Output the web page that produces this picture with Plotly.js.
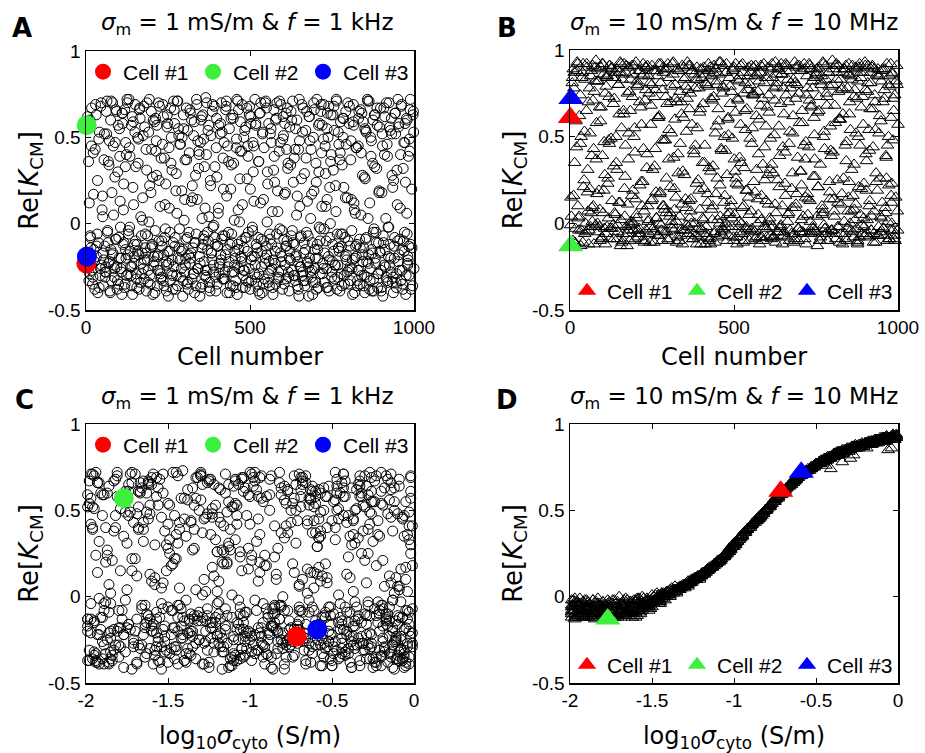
<!DOCTYPE html>
<html><head><meta charset="utf-8">
<script src="https://cdn.plot.ly/plotly-3.0.1.min.js"></script>
<style>html,body{margin:0;padding:0;background:#fff}#chart{width:925px;height:753px}</style>
</head><body><div id="chart"></div>
<script>
// ---- data (read/estimated from the reference) ----
const cellNumber = [
4,7,9,10,14,17,18,22,24,27,31,32,35,38,39,43,46,47,51,53,
56,57,61,64,65,68,72,74,75,79,82,83,86,90,91,94,97,99,102,105,
106,110,113,114,117,121,122,125,128,130,134,135,138,142,143,146,150,151,154,157,
159,161,165,166,169,173,175,176,180,183,184,187,191,192,195,199,201,203,206,209,
211,214,217,218,221,225,226,229,232,235,236,240,243,244,247,251,253,255,258,261,
262,266,268,270,273,277,278,281,285,286,289,292,294,297,300,302,305,308,310,313,
316,317,321,323,326,328,331,334,336,338,342,344,346,350,351,354,357,359,362,365,
367,369,373,374,377,380,383,385,388,390,393,396,398,401,404,406,409,412,413,417,
420,421,425,427,429,433,434,437,440,443,445,447,451,452,455,458,461,463,466,469,
471,473,477,479,481,485,486,490,492,494,497,501,502,505,508,511,513,515,519,520,
523,527,528,531,534,537,539,541,545,546,549,553,555,557,560,563,565,568,571,573,
575,579,580,583,587,589,591,594,597,599,602,605,607,610,613,615,618,621,622,626,
628,630,634,635,638,642,643,646,649,651,654,657,659,662,664,667,670,672,675,678,
680,682,686,687,690,694,695,698,701,703,706,709,711,714,716,719,722,724,727,730,
732,735,737,740,742,745,748,750,753,755,758,761,763,766,768,771,774,776,779,781,
784,787,789,792,794,797,800,802,805,807,810,813,815,818,820,823,826,828,831,833,
836,839,841,844,846,849,852,854,857,859,862,865,867,870,872,875,878,880,883,885,
888,891,893,896,898,901,904,906,909,911,914,917,919,922,924,927,930,932,935,937,
940,943,945,948,950,953,956,958,961,963,966,969,971,974,976,979,982,984,987,989,
8,60,118,171,230,283,339,392,448,503,558,612,661,717,770,821,877,928,981,997,
2,5,11,13,16,20,23,26,29,33,36,41,44,49,52,55,59,62,66,69,
71,76,78,81,85,88,92,95,98,101,104,108,111,116,119,123,127,131,133,137,
140,144,148,152,155,158,163,167,170,174,178,181,186,189,194,197,200,204,207,212,
215,219,222,224,228,233,237,241,245,249,252,256,259,264,267,271,274,279,282,287,
290,293,296,299,303,306,309,312,315,319,322,325,329,333,337,340,343,347,349,353,
356,360,363,366,370,372,376,379,382,386,389,394,397,400,403,407,410,414,418,422,
424,428,431,435,438,441,444,449,453,456,459,462,465,468,472,475,478,483,487,489,
493,496,499,504,507,510,514,517,521,525,529,532,535,538,542,544,548,551,554,559,
561,564,567,570,574,577,582,585,588,592,595,598,601,604,608,611,614,617,620,624,
627,631,633,637,640,644,647,650,653,656,660,663,666,669,673,676,679,683,685,689,
692,696,699,702,705,708,712,715,718,721,725,728,731,734,738,741,744,747,751,754,
757,760,764,767,770,773,777,780,783,786,790,793,796,799,803,806,809,812,816,819,
822,825,829,832,835,838,842,845,848,851,855,858,861,864,868,871,874,877,881,884,
887,890,894,897,900,903,907,910,913,916,920,923,926,929,933,936,939,942,946,949,
952,954,957,960,962,964,967,970,972,975,977,979,981,983,985,988,990,993,996,999,
3,12,15,21,28,34,40,45,50,54,58,63,67,70,73,77,80,84,87,89,
93,96,100,103,107,109,112,115,120,124,126,129,132,136,139,141,145,147,149,153,
156,160,162,164,168,172,177,179,182,185,188,190,193,196,198,202,205,208,210,213,
216,220,223,227,231,234,238,239,242,246,248,250,254,257,260,263,265,269,272,275,
276,280,284,288,291,295,298,301,304,307,311,314,318,320,324,327,330,332,335,341,
345,348,352,355,358,361,364,368,371,375,378,381,384,387,391,395,399,402,405,408,
411,415,416,419,423,426,430,432,436,439,442,446,450,454,457,460,464,467,470,474,
476,480,482,484,488,491,495,498,500,506,509,512,516,518,522,524,526,530,533,536,
540,543,547,550,552,556,562,566,569,572,576,578,581,584,586,590,593,596,600,603,
606,609,616,619,623,625,629,632,636,639,641,645,648,652,655,658,665,668,671,674,
677,681,684,688,691,693,697,700,704,707,710,713,720,723,726,729,733,736,739,743,
746,749,752,756,759,762,765,769,772,775,778,782,785,788,791,795,798,801,804,808,
811,814,817,824,827,830,834,837,840,843,847,850,853,856,860,863,866,869,873,876,
879,882,886,889,892,895,899,902,905,908,912,915,918,921,925,931,934,938,941,944,
947,951,955,959,965,968,973,978,980,986,991,994,998,1000,120,360,610,850,475,735];

const log10SigmaCyto = [
-1.37,-0.42,-1.88,-0.15,-0.96,-1.62,-0.71,-0.03,-1.21,-1.94,-0.55,-0.84,-1.49,-0.27,-1.73,-1.05,-0.33,-1.56,-0.09,-1.12,
-0.61,-1.99,-0.78,-1.30,-0.19,-1.45,-0.88,-0.50,-1.67,-0.01,-1.15,-0.37,-1.83,-0.64,-1.26,-0.11,-1.58,-0.92,-0.24,-1.76,
-1.03,-0.47,-1.91,-0.29,-1.40,-0.06,-1.70,-0.82,-1.18,-0.35,-1.96,-0.58,-1.33,-0.13,-0.99,-1.52,-0.68,-0.21,-1.85,-0.75,
-0.39,-1.64,-0.02,-1.09,-0.86,-1.79,-0.52,-1.24,-0.17,-1.43,-0.66,-1.97,-0.31,-1.11,-0.80,-1.60,-0.07,-1.35,-0.44,-1.90,
-1.54,-0.26,-1.06,-0.73,-1.81,-0.04,-1.28,-0.57,-1.69,-0.90,-0.14,-1.47,-0.40,-1.93,-0.63,-1.17,-0.22,-1.74,-0.97,-0.49,
-1.13,-0.34,-1.87,-0.69,-1.39,-0.10,-1.59,-0.83,-0.28,-1.23,-1.98,-0.54,-1.04,-0.18,-1.66,-0.77,-1.31,-0.45,-1.50,-0.05,
-0.93,-1.72,-0.41,-1.16,-0.60,-1.95,-0.23,-1.34,-0.85,-1.57,-0.12,-1.00,-0.70,-1.84,-0.32,-1.27,-0.56,-1.63,-0.08,-1.41,
-0.53,-1.19,-0.16,-1.78,-0.89,-1.46,-0.36,-1.07,-0.76,-1.92,-0.48,-1.29,-0.20,-1.61,-0.95,-0.62,-1.10,-1.86,-0.30,-1.53,
-1.22,-0.43,-1.75,-0.09,-1.01,-0.59,-1.44,-0.25,-1.85,-0.79,-1.14,-0.38,-1.68,-0.65,-0.03,-1.36,-0.87,-1.96,-0.46,-1.20,
-0.81,-1.48,-0.11,-1.02,-0.72,-1.80,-0.33,-1.25,-0.51,-1.65,-0.19,-0.94,-1.38,-0.06,-1.89,-0.58,-1.08,-0.27,-1.55,-0.74,
-1.42,-0.22,-1.71,-0.98,-0.39,-1.12,-0.64,-1.93,-0.15,-1.30,-0.82,-0.02,-1.58,-0.53,-1.06,-0.31,-1.82,-0.70,-1.18,-0.44,
-0.91,-1.64,-0.26,-1.37,-0.57,-1.97,-0.08,-1.04,-0.76,-1.50,-0.35,-1.23,-0.67,-1.86,-0.17,-0.96,-1.45,-0.48,-1.74,-0.01,
-1.28,-0.43,-1.90,-0.13,-1.10,-0.61,-1.53,-0.29,-0.86,-1.69,-0.05,-1.16,-0.54,-1.98,-0.37,-1.33,-0.78,-0.20,-1.61,-1.00,
-0.69,-1.81,-0.41,-1.26,-0.10,-0.93,-1.47,-0.52,-1.77,-0.24,-1.08,-0.73,-1.39,-0.04,-1.62,-0.84,-0.32,-1.14,-1.95,-0.59,
-1.19,-0.12,-1.56,-0.47,-1.02,-0.80,-1.88,-0.28,-1.35,-0.66,-0.18,-1.72,-0.97,-0.42,-1.24,-0.07,-1.44,-0.88,-1.99,-0.34,
-0.55,-1.67,-0.21,-1.13,-0.75,-1.51,-0.03,-0.90,-1.31,-0.62,-1.85,-0.38,-1.05,-0.14,-1.59,-0.71,-1.21,-0.49,-1.76,-0.26,
-1.40,-0.85,-0.09,-1.92,-0.46,-1.17,-0.68,-1.49,-0.30,-0.99,-1.79,-0.56,-1.27,-0.16,-0.79,-1.63,-0.36,-1.09,-0.02,-1.34,
-0.64,-1.54,-0.23,-1.07,-1.83,-0.50,-0.95,-1.42,-0.11,-0.77,-1.20,-0.40,-1.68,-0.06,-0.87,-1.29,-0.60,-1.96,-0.19,-1.11,
-1.60,-0.33,-1.03,-0.72,-1.36,-0.15,-1.71,-0.57,-1.25,-0.92,-0.05,-1.46,-0.81,-1.87,-0.44,-1.15,-0.27,-1.57,-0.65,-1.94,
-0.37,-1.10,-0.82,-1.52,-0.08,-1.23,-0.61,-1.78,-0.29,-1.00,-0.51,-1.65,-0.13,-0.94,-1.32,-0.70,-1.89,-0.20,-1.06,-0.43,
-1.83,-0.58,-1.16,-0.24,-1.62,-0.87,-0.05,-1.41,-0.69,-1.97,-0.33,-1.08,-0.78,-1.53,-0.16,-1.29,-0.47,-1.74,-0.92,-0.11,
-1.26,-0.40,-1.94,-0.73,-0.19,-1.12,-1.57,-0.63,-0.02,-1.36,-0.84,-1.89,-0.29,-1.04,-0.55,-1.68,-0.13,-1.47,-0.97,-0.36,
-0.81,-1.99,-0.45,-1.21,-0.07,-1.59,-0.66,-1.33,-0.26,-1.79,-0.94,-0.51,-1.44,-0.10,-1.70,-0.76,-1.18,-0.38,-1.91,-0.60,
-1.50,-0.31,-1.06,-0.88,-1.76,-0.14,-1.23,-0.53,-1.86,-0.43,-0.99,-1.64,-0.21,-1.38,-0.70,-0.04,-1.14,-1.96,-0.49,-0.83,
-0.17,-1.31,-0.62,-1.85,-0.34,-1.09,-0.79,-1.55,-0.01,-1.27,-0.57,-1.72,-0.91,-0.23,-1.45,-0.68,-1.92,-0.12,-1.02,-0.44,
-1.66,-0.50,-1.19,-0.06,-1.43,-0.74,-1.98,-0.28,-0.86,-1.60,-0.37,-1.11,-0.65,-1.80,-0.18,-1.35,-0.95,-0.41,-1.52,-0.09,
-0.98,-1.73,-0.32,-1.24,-0.56,-1.88,-0.15,-1.04,-0.72,-1.49,-0.03,-0.89,-1.62,-0.46,-1.15,-0.27,-1.94,-0.80,-1.30,-0.61,
-1.40,-0.20,-1.82,-0.67,-1.07,-0.38,-1.57,-0.93,-0.11,-1.28,-0.52,-1.69,-0.77,-1.99,-0.30,-1.17,-0.43,-1.46,-0.85,-0.07,
-0.54,-1.13,-1.90,-0.25,-1.34,-0.71,-0.02,-1.58,-0.96,-0.40,-1.77,-1.20,-0.63,-0.14,-1.48,-0.82,-1.65,-0.35,-1.01,-0.58,
-1.87,-0.29,-1.05,-0.75,-1.53,-0.08,-1.25,-0.48,-1.71,-0.90,-0.19,-1.39,-0.59,-1.95,-0.34,-1.10,-0.79,-1.61,-0.04,-1.22,
-0.42,-1.67,-0.13,-0.99,-1.44,-0.66,-1.81,-0.22,-1.16,-0.53,-1.33,-0.87,-0.05,-1.56,-0.36,-1.92,-0.70,-1.03,-0.26,-1.75,
-1.09,-0.56,-1.97,-0.31,-1.27,-0.81,-1.50,-0.10,-0.62,-1.84,-0.45,-1.19,-0.92,-1.63,-0.16,-1.37,-0.73,-0.01,-1.42,-0.50,
-1.78,-0.37,-1.14,-0.68,-0.20,-1.54,-0.95,-1.89,-0.27,-1.06,-0.77,-1.30,-0.08,-1.69,-0.47,-1.23,-0.57,-1.95,-0.12,-0.85,
-0.33,-1.46,-0.74,-1.60,-0.03,-1.11,-0.51,-1.82,-0.89,-0.23,-1.36,-0.64,-1.75,-0.41,-1.01,-1.51,-0.17,-0.79,-1.99,-0.39,
-1.20,-0.60,-1.86,-0.15,-1.32,-0.93,-1.65,-0.44,-1.08,-0.06,-1.74,-0.70,-1.41,-0.28,-0.83,-1.93,-0.54,-1.17,-0.11,-1.56,
-1.17,-0.47,-1.95,-0.21,-1.36,-0.81,-0.09,-1.55,-0.65,-1.00,-1.82,-0.30,-1.26,-0.58,-1.69,-0.14,-0.93,-1.43,-0.38,-1.90,
-0.72,-1.63,-0.04,-1.12,-0.52,-1.77,-0.33,-1.06,-0.85,-1.48,-0.17,-1.97,-0.61,-1.31,-0.25,-0.96,-1.58,-0.43,-1.21,-0.01,
-1.41,-0.27,-1.86,-0.68,-1.03,-0.12,-1.52,-0.79,-1.99,-0.36,-1.15,-0.55,-1.72,-0.06,-0.90,-1.34,-0.45,-1.65,-0.20,-1.08,
-0.63,-1.24,-0.02,-1.79,-0.49,-0.98,-1.46,-0.31,-1.88,-0.74,-1.19,-0.10,-1.60,-0.56,-0.88,-1.38,-0.23,-1.93,-0.69,-1.13,
-0.40,-1.70,-0.15,-1.27,-0.83,-1.54,-0.05,-0.94,-1.35,-0.60,-1.84,-0.28,-1.10,-0.71,-1.45,-0.18,-1.01,-1.62,-0.51,-1.23,
-1.96,-0.37,-1.18,-0.78,-0.03,-1.49,-0.64,-1.30,-0.22,-1.75,-0.91,-0.46,-1.57,-0.13,-1.05,-0.67,-1.87,-0.34,-1.40,-0.08,
-0.86,-1.61,-0.42,-1.14,-0.19,-1.92,-0.57,-1.28,-0.97,-0.07,-1.67,-0.75,-1.39,-0.29,-1.08,-1.81,-0.53,-0.11,-1.50,-0.89,
-0.26,-1.33,-0.70,-1.98,-0.44,-1.20,-0.82,-1.56,-0.16,-1.04,-1.74,-0.59,-1.42,-0.32,-0.95,-1.89,-0.04,-1.25,-0.66,-1.64,
-1.11,-0.50,-1.85,-0.24,-1.29,-0.76,-1.68,-0.09,-0.99,-1.44,-0.39,-1.91,-0.62,-1.16,-0.14,-1.53,-0.87,-0.33,-1.76,-1.02,
-0.54,-1.37,-0.06,-1.59,-0.80,-1.22,-0.45,-1.94,-0.18,-0.92,-1.47,-0.27,-1.71,-0.68,-1.07,-0.02,-1.32,-0.84,-1.83,-0.41,
-1.26,-0.35,-1.80,-0.58,-1.13,-0.12,-1.63,-0.73,-1.00,-0.21,-1.51,-0.86,-1.97,-0.48,-1.19,-0.07,-1.40,-0.62,-1.73,-0.30,
-0.94,-1.58,-0.17,-1.09,-0.66,-1.86,-0.39,-1.34,-0.03,-0.78,-1.45,-0.52,-1.68,-0.23,-1.05,-0.89,-1.95,-0.44,-1.18,-0.10,
-1.52,-0.28,-1.22,-0.71,-1.90,-0.46,-1.03,-0.14,-1.61,-0.83,-1.30,-0.05,-0.60,-1.77,-0.37,-1.15,-0.97,-1.43,-0.19,-1.66,
-0.81,-1.99,-0.25,-1.10,-0.55,-1.38,-0.01,-0.91,-1.72,-0.42,-1.24,-0.64,-1.54,-0.13,-1.85,-0.77,-1.06,-0.32,-1.48,-0.69,
-1.35,-0.20,-1.80,-0.48,-1.04,-0.85,-1.57,-0.09,-1.20,-0.57,-1.93,-0.36,-1.29,-0.74,-0.03,-1.66,-0.99,-0.26,-1.44,-0.63];

const reK_1kHz = [
-0.21,0.58,-0.33,0.12,-0.08,0.67,-0.27,0.41,-0.15,-0.38,0.63,-0.19,0.25,-0.11,0.49,-0.30,0.70,-0.24,0.04,-0.36,
0.52,-0.13,-0.28,0.71,-0.05,0.36,-0.22,-0.40,0.60,0.18,-0.17,0.45,-0.31,-0.09,0.66,-0.25,0.30,-0.35,0.55,-0.02,
-0.26,0.64,-0.12,0.08,-0.37,0.47,-0.20,0.72,-0.29,-0.06,0.39,-0.16,0.57,-0.41,0.21,-0.23,0.69,-0.10,-0.32,0.50,
0.35,-0.18,0.61,-0.34,-0.07,0.15,-0.26,0.68,-0.14,0.43,-0.39,-0.21,0.53,0.01,-0.30,0.65,-0.12,0.27,-0.24,0.59,
-0.04,0.48,-0.36,-0.19,0.70,-0.27,0.10,0.38,-0.13,-0.33,0.62,-0.08,0.23,-0.22,0.56,-0.42,0.44,-0.16,0.67,-0.29,
0.31,-0.11,-0.25,0.58,-0.38,0.06,0.71,-0.20,-0.03,0.46,-0.31,0.19,-0.15,0.63,-0.28,0.37,-0.09,-0.35,0.54,-0.18,
-0.23,0.66,0.13,-0.32,-0.14,0.51,-0.40,0.28,-0.06,0.69,-0.26,0.42,-0.19,-0.37,0.60,0.03,-0.12,0.49,-0.30,0.73,
0.40,-0.27,-0.10,0.57,-0.34,0.22,-0.17,0.65,-0.24,-0.01,0.33,-0.39,0.61,-0.13,0.09,-0.29,0.52,-0.21,0.70,-0.07,
-0.32,0.47,-0.18,0.68,0.16,-0.25,-0.05,0.55,-0.36,0.34,-0.11,0.63,-0.28,0.02,-0.20,0.44,-0.41,0.71,-0.15,0.26,
0.59,-0.22,0.11,-0.30,0.50,-0.08,-0.37,0.67,-0.16,0.39,-0.26,0.20,0.62,-0.33,-0.04,0.45,-0.19,0.72,-0.12,-0.35,
-0.17,0.36,-0.29,0.64,-0.09,-0.40,0.53,0.14,-0.23,0.70,-0.13,0.30,-0.34,0.58,-0.06,-0.27,0.47,0.07,-0.21,0.66,
0.24,-0.35,0.61,-0.14,-0.28,0.42,-0.03,0.69,-0.19,-0.38,0.51,0.17,-0.24,0.64,-0.10,0.32,-0.31,0.56,-0.16,-0.07,
-0.27,0.71,-0.12,0.38,-0.33,0.05,0.60,-0.22,-0.42,0.48,-0.08,0.26,-0.30,0.67,-0.17,-0.36,0.54,-0.05,0.13,-0.25,
0.62,-0.20,0.43,-0.31,-0.11,0.70,0.19,-0.26,0.35,-0.38,-0.15,0.57,-0.02,-0.29,0.65,0.10,-0.23,0.49,-0.34,0.29,
-0.10,0.55,-0.37,0.68,-0.21,0.00,0.40,-0.28,0.63,-0.16,-0.32,0.22,0.72,-0.06,-0.24,0.46,-0.39,0.59,-0.13,0.34,
0.50,-0.30,-0.08,0.65,-0.18,0.15,-0.35,0.58,-0.25,0.37,-0.04,-0.41,0.69,0.08,-0.20,0.44,-0.12,-0.33,0.61,-0.27,
-0.14,0.41,0.64,-0.22,-0.36,0.27,-0.09,0.53,-0.31,0.71,-0.18,0.12,-0.26,0.48,-0.39,0.60,-0.03,0.33,-0.23,-0.11,
0.57,-0.29,0.18,-0.16,0.67,-0.37,0.45,-0.07,-0.24,0.62,0.03,-0.33,0.39,-0.19,0.70,-0.12,-0.28,0.52,0.21,-0.40,
-0.20,0.64,-0.34,0.31,-0.10,0.56,-0.27,0.09,0.68,-0.15,-0.38,0.47,-0.05,0.24,-0.30,0.60,-0.21,-0.13,0.42,0.72,
0.36,-0.25,0.66,-0.17,-0.31,0.51,0.14,-0.08,-0.36,0.58,-0.22,0.43,-0.28,0.69,-0.14,0.06,-0.39,0.54,-0.19,0.63,
-0.19,0.62,-0.29,-0.07,0.45,-0.35,0.17,-0.22,0.69,-0.13,-0.40,0.53,-0.26,0.08,-0.17,0.37,-0.31,0.65,-0.04,-0.23,
0.48,-0.15,-0.33,0.70,-0.24,0.27,-0.09,-0.38,0.57,-0.20,0.13,-0.28,0.64,-0.11,-0.35,0.40,-0.18,0.72,-0.02,-0.30,
-0.25,0.59,-0.12,0.33,-0.37,-0.16,0.66,0.04,-0.29,0.51,-0.21,-0.06,0.70,-0.34,0.22,-0.14,0.43,-0.41,-0.19,0.61,
0.28,-0.27,-0.10,0.68,-0.32,0.46,-0.18,0.11,-0.39,0.58,-0.23,-0.05,0.35,-0.30,0.71,-0.13,0.19,-0.36,0.55,-0.21,
-0.16,0.50,-0.33,0.02,-0.24,0.67,-0.08,-0.38,0.41,-0.20,0.60,0.15,-0.29,-0.11,0.72,-0.26,0.32,-0.42,0.47,-0.14,
0.63,-0.22,0.09,-0.31,-0.05,0.54,-0.37,0.25,-0.17,0.69,-0.28,-0.12,0.44,-0.35,0.06,-0.23,0.58,-0.09,0.38,-0.32,
-0.28,0.71,-0.15,0.36,-0.40,0.20,-0.06,0.61,-0.24,-0.33,0.49,-0.12,0.66,0.01,-0.19,0.42,-0.37,-0.27,0.56,-0.08,
0.45,-0.34,0.68,-0.21,-0.02,0.30,-0.29,0.57,-0.14,-0.39,0.64,0.12,-0.25,0.52,-0.10,-0.32,0.71,-0.18,0.23,-0.36,
-0.09,0.55,-0.26,-0.41,0.39,-0.16,0.70,0.07,-0.31,0.47,-0.22,-0.04,0.62,-0.35,0.18,-0.13,0.67,-0.28,-0.20,0.34,
0.60,-0.11,-0.30,0.43,-0.19,0.16,-0.38,0.72,-0.25,-0.07,0.53,-0.33,0.29,-0.15,0.65,-0.23,-0.42,0.48,0.03,-0.27,
-0.34,0.66,-0.20,0.24,-0.12,-0.37,0.58,-0.03,0.41,-0.29,0.69,-0.17,0.10,-0.26,0.50,-0.39,-0.08,0.63,-0.22,0.31,
0.54,-0.24,0.71,-0.31,-0.14,0.37,-0.06,-0.36,0.61,0.21,-0.19,0.46,-0.28,-0.10,0.68,-0.33,0.14,-0.21,0.57,-0.40,
-0.13,0.44,-0.27,0.65,-0.35,0.05,-0.18,0.59,-0.30,0.26,-0.08,0.72,-0.23,-0.38,0.50,-0.15,0.35,-0.32,0.63,-0.05,
0.67,-0.29,0.19,-0.17,-0.39,0.52,-0.11,0.40,-0.25,0.70,-0.34,-0.02,0.56,-0.20,0.28,-0.31,-0.13,0.64,-0.37,0.11,
-0.22,0.58,-0.09,-0.33,0.69,-0.27,0.32,-0.16,0.47,-0.41,0.61,-0.06,-0.24,0.39,-0.30,0.66,-0.12,0.20,-0.36,0.53,
-0.24,0.60,-0.14,-0.31,0.43,-0.06,-0.37,0.68,0.16,-0.21,-0.28,0.52,-0.11,0.34,-0.39,0.71,-0.18,0.05,-0.26,0.47,
0.65,-0.33,-0.08,0.39,-0.20,-0.41,0.58,0.23,-0.15,-0.30,0.70,-0.04,0.44,-0.25,-0.36,0.62,0.11,-0.19,0.53,-0.29,
-0.12,0.49,-0.38,0.67,-0.23,0.02,-0.32,0.56,-0.17,0.31,-0.07,-0.27,0.72,-0.35,0.18,-0.13,0.60,-0.22,-0.40,0.42,
0.57,-0.18,0.25,-0.29,-0.10,0.69,-0.36,0.38,-0.03,-0.24,0.63,-0.16,0.09,-0.33,0.50,-0.21,-0.38,0.66,-0.08,0.29,
-0.30,0.71,-0.14,0.46,-0.26,-0.42,0.55,0.14,-0.20,0.37,-0.34,-0.05,0.64,-0.17,0.22,-0.29,0.59,-0.11,-0.36,0.48,
0.40,-0.23,0.62,-0.35,-0.09,0.33,-0.27,0.70,-0.15,0.04,-0.39,0.51,-0.21,-0.02,0.68,-0.31,0.27,-0.13,0.57,-0.25,
-0.18,0.53,-0.32,0.20,-0.07,0.66,-0.40,0.45,-0.22,-0.12,0.61,-0.28,0.35,-0.16,-0.37,0.72,0.08,-0.26,0.42,-0.10,
0.69,-0.27,-0.14,0.54,-0.33,0.26,-0.05,0.63,-0.38,-0.19,0.47,0.13,-0.24,0.58,-0.31,-0.08,0.36,-0.41,0.70,-0.16,
-0.35,0.44,-0.20,0.67,0.01,-0.29,0.52,-0.12,-0.37,0.31,-0.23,0.60,-0.06,0.19,-0.32,0.71,-0.17,-0.27,0.49,-0.09,
0.58,-0.13,0.35,-0.39,-0.21,0.65,-0.04,0.24,-0.30,0.55,-0.18,-0.36,0.43,0.10,-0.25,0.69,-0.11,-0.33,0.38,-0.22,
-0.07,0.62,-0.28,0.17,-0.41,0.50,-0.15,-0.34,0.72,-0.20,0.30,-0.10,0.57,-0.26,-0.03,0.45,-0.37,0.64,-0.19,0.21,
0.36,-0.31,-0.12,0.68,-0.24,0.07,-0.38,0.53,-0.16,0.41,-0.29,-0.06,0.61,-0.35,0.15,-0.21,0.70,-0.27,-0.13,0.48,
-0.26,0.59,0.12,-0.19,-0.36,0.45,-0.09,0.66,-0.30,0.28,-0.14,-0.40,0.54,-0.22,0.03,0.71,-0.33,0.39,-0.17,-0.05,
0.63,-0.20,0.32,-0.37,-0.11,0.56,-0.27,0.18,-0.42,0.67,-0.15,-0.31,0.46,-0.02,-0.24,0.61,-0.34,0.25,-0.08,0.52,
-0.29,0.72,-0.18,0.40,-0.35,-0.10,0.58,0.06,-0.23,0.49,-0.38,-0.14,0.65,-0.26,0.33,-0.07,-0.32,0.55,-0.20,0.14];

const reK_10MHz = [
0.04,0.81,-0.10,0.89,0.35,-0.03,0.59,0.93,0.10,-0.04,0.74,0.46,-0.04,0.87,-0.11,0.25,0.83,0.00,0.92,0.18,
0.70,-0.12,0.52,0.06,0.88,0.01,0.43,0.76,-0.02,0.94,0.17,0.82,-0.05,0.67,0.08,0.90,-0.08,0.39,0.86,-0.03,
0.28,0.79,-0.02,0.85,0.03,0.91,-0.09,0.49,0.13,0.84,-0.09,0.72,0.05,0.89,0.31,-0.05,0.63,0.87,-0.13,0.55,
0.83,-0.06,0.92,0.20,0.45,-0.06,0.75,0.11,0.90,-0.01,0.65,-0.01,0.86,0.19,0.50,-0.09,0.93,0.03,0.80,-0.06,
-0.03,0.88,0.24,0.57,-0.10,0.86,0.07,0.71,-0.04,0.40,0.91,0.02,0.81,-0.11,0.68,0.14,0.88,-0.05,0.33,0.77,
0.18,0.85,-0.07,0.61,0.00,0.92,-0.01,0.48,0.87,0.10,-0.05,0.73,0.26,0.89,-0.10,0.54,0.06,0.79,0.01,0.92,
0.38,-0.04,0.80,0.15,0.70,-0.08,0.88,0.04,0.46,-0.07,0.91,0.30,0.61,-0.04,0.84,0.09,0.72,-0.06,0.91,0.03,
0.75,0.14,0.88,-0.09,0.42,0.00,0.83,0.23,0.55,-0.03,0.78,0.08,0.89,-0.04,0.35,0.69,0.20,-0.12,0.86,-0.06,
0.12,0.79,-0.10,0.90,0.30,0.71,0.02,0.87,-0.06,0.52,0.17,0.82,-0.08,0.66,0.93,0.04,0.43,-0.03,0.79,0.12,
0.50,-0.02,0.92,0.28,0.60,-0.07,0.84,0.10,0.76,-0.02,0.89,0.37,0.05,0.92,-0.08,0.72,0.22,0.82,-0.05,0.57,
0.00,0.87,-0.11,0.32,0.81,0.19,0.66,-0.04,0.90,0.05,0.49,0.91,-0.03,0.74,0.24,0.85,-0.09,0.62,0.14,0.76,
0.40,-0.08,0.87,0.02,0.72,-0.10,0.92,0.25,0.56,-0.03,0.84,0.11,0.64,-0.02,0.89,0.34,-0.02,0.78,-0.08,0.93,
0.06,0.81,-0.05,0.90,0.21,0.69,-0.01,0.86,0.44,-0.07,0.91,0.16,0.74,-0.08,0.83,0.06,0.53,0.88,-0.06,0.29,
0.62,-0.11,0.81,0.09,0.90,0.38,-0.03,0.75,-0.05,0.88,0.22,0.58,0.04,0.92,-0.09,0.47,0.85,0.17,-0.06,0.71,
0.13,0.89,-0.05,0.78,0.27,0.51,-0.04,0.86,0.04,0.64,0.90,-0.10,0.34,0.80,0.10,0.93,-0.01,0.43,-0.06,0.83,
0.73,-0.05,0.87,0.18,0.56,-0.04,0.94,0.41,0.07,0.68,-0.09,0.83,0.25,0.91,-0.02,0.60,0.11,0.77,-0.12,0.87,
0.01,0.45,0.91,-0.10,0.78,0.15,0.63,0.00,0.85,0.31,-0.05,0.73,0.08,0.90,0.52,-0.03,0.82,0.21,0.92,0.05,
0.67,-0.06,0.87,0.23,-0.07,0.77,0.36,0.02,0.91,0.54,0.13,0.81,-0.04,0.91,0.44,0.07,0.70,-0.11,0.86,0.19,
-0.07,0.85,0.26,0.59,0.03,0.89,-0.03,0.72,0.09,0.39,0.92,0.01,0.50,-0.09,0.79,0.16,0.87,-0.04,0.65,-0.07,
0.84,0.20,0.48,-0.02,0.90,0.10,0.70,-0.08,0.80,0.30,0.75,-0.07,0.91,0.37,0.06,0.60,-0.10,0.89,0.23,0.80,
-0.01,0.71,0.16,0.87,-0.12,0.44,0.92,0.03,0.62,-0.13,0.84,0.21,0.53,-0.05,0.90,0.07,0.78,-0.02,0.39,0.91,
0.10,0.82,-0.01,0.58,0.89,0.19,-0.10,0.67,0.92,0.06,0.47,-0.12,0.85,0.26,0.73,-0.03,0.90,-0.01,0.33,0.84,
0.50,-0.09,0.80,0.12,0.92,-0.11,0.65,0.04,0.87,-0.13,0.37,0.76,0.01,0.91,0.00,0.55,0.14,0.82,-0.04,0.70,
-0.06,0.85,0.24,0.43,-0.10,0.90,0.10,0.75,-0.02,0.80,0.31,-0.11,0.88,0.03,0.61,0.92,0.17,-0.04,0.77,0.48,
0.89,0.06,0.69,-0.09,0.84,0.21,0.52,-0.01,0.93,0.08,0.72,-0.11,0.40,0.88,-0.04,0.63,-0.12,0.90,0.28,0.79,
-0.01,0.77,0.13,0.91,0.00,0.57,-0.06,0.86,0.45,-0.12,0.83,0.19,0.66,-0.03,0.89,0.02,0.35,0.81,-0.08,0.92,
0.32,-0.12,0.85,0.10,0.73,-0.05,0.89,0.26,0.59,0.00,0.93,0.42,-0.07,0.78,0.16,0.87,-0.10,0.51,0.06,0.69,
0.03,0.88,-0.10,0.64,0.23,0.83,-0.02,0.38,0.91,0.09,0.75,-0.10,0.54,-0.02,0.85,0.15,0.80,-0.04,0.46,0.90,
0.74,0.18,-0.08,0.86,0.05,0.60,0.91,-0.08,0.34,0.81,-0.02,0.13,0.67,0.90,0.01,0.49,-0.09,0.84,0.29,0.71,
-0.11,0.86,0.25,0.56,-0.03,0.92,0.10,0.78,-0.05,0.41,0.88,0.01,0.70,-0.10,0.78,0.20,0.52,-0.06,0.93,0.11,
0.80,-0.10,0.91,0.30,0.02,0.65,-0.06,0.89,0.15,0.74,0.05,0.44,0.91,-0.06,0.82,-0.03,0.61,0.27,0.87,-0.13,
0.21,0.73,-0.08,0.85,0.08,0.50,-0.03,0.91,0.68,-0.10,0.79,0.14,0.39,-0.04,0.89,0.04,0.58,0.92,-0.02,0.76,
-0.11,0.83,0.17,0.63,0.89,-0.06,0.36,-0.03,0.86,0.24,0.54,0.07,0.91,-0.08,0.77,0.11,0.72,-0.12,0.90,0.45,
0.84,-0.01,0.57,-0.02,0.91,0.19,0.76,-0.08,0.42,0.87,0.04,0.66,-0.06,0.74,0.29,-0.07,0.89,0.52,-0.05,0.82,
0.12,0.70,-0.07,0.89,0.06,0.38,-0.10,0.80,0.22,0.85,-0.04,0.61,0.00,0.86,0.48,-0.09,0.74,0.15,0.91,-0.04,
0.15,0.78,-0.11,0.88,0.04,0.50,0.92,-0.06,0.65,0.31,-0.04,0.85,0.09,0.71,-0.12,0.90,0.37,0.00,0.82,-0.02,
0.59,-0.09,0.92,0.19,0.75,-0.06,0.84,0.23,0.46,-0.03,0.89,-0.03,0.69,0.06,0.87,0.35,-0.01,0.80,0.12,0.93,
0.02,0.86,-0.10,0.63,0.27,0.91,-0.04,0.52,-0.10,0.83,0.16,0.73,-0.04,0.91,0.41,0.05,0.79,-0.08,0.88,0.22,
0.67,0.10,0.92,-0.11,0.77,0.32,0.01,0.85,-0.06,0.57,0.13,0.91,-0.03,0.73,0.43,0.03,0.88,-0.07,0.62,0.18,
0.81,-0.10,0.90,0.08,0.48,-0.05,0.92,0.37,0.04,0.70,-0.03,0.86,0.20,0.60,0.01,0.89,0.29,-0.10,0.76,0.11,
-0.04,0.83,0.14,0.53,0.93,-0.02,0.66,0.07,0.88,-0.09,0.40,0.78,-0.07,0.90,0.25,0.64,-0.12,0.84,0.03,0.90,
0.45,-0.02,0.80,0.17,0.88,-0.09,0.72,0.08,0.33,0.91,-0.11,0.56,0.02,0.86,0.22,-0.05,0.75,0.91,-0.04,0.42,
0.87,0.05,0.61,-0.02,0.79,0.13,0.49,-0.08,0.90,0.26,-0.12,0.71,0.01,0.85,0.35,-0.06,0.92,0.10,0.65,-0.03,
0.19,0.77,-0.10,0.87,0.07,0.55,-0.05,0.91,0.31,0.00,0.82,-0.12,0.68,0.16,0.90,-0.02,0.44,0.84,-0.08,0.28,
0.74,0.03,0.92,-0.08,0.51,0.11,0.79,-0.05,0.89,0.39,-0.02,0.86,-0.12,0.63,0.23,0.92,0.05,0.46,-0.04,0.81,
0.09,0.83,-0.09,0.72,0.17,0.91,-0.03,0.58,0.30,0.88,-0.05,0.45,-0.12,0.78,0.14,0.92,0.01,0.68,-0.02,0.84,
0.37,-0.05,0.89,0.21,0.65,-0.10,0.82,0.05,0.92,0.53,-0.03,0.75,-0.10,0.87,0.24,0.42,-0.04,0.80,0.14,0.91,
-0.06,0.87,0.12,0.60,-0.06,0.78,0.26,0.89,-0.09,0.47,0.07,0.92,0.70,-0.04,0.83,0.16,0.34,0.02,0.89,-0.11,
0.50,-0.08,0.87,0.20,0.73,0.03,0.93,0.40,-0.06,0.81,0.10,0.66,-0.04,0.90,-0.11,0.54,0.24,0.85,-0.02,0.62,
0.04,0.88,-0.03,0.77,0.26,0.45,-0.09,0.92,0.12,0.72,-0.10,0.82,0.07,0.57,0.91,-0.06,0.31,0.86,0.00,0.67];

const highlightNames = ['Cell #1', 'Cell #2', 'Cell #3'];
const highlightCellNumber = [1, 2, 3];
const highlightLogSigma = [-0.715, -1.77, -0.59];
const highlightK_1kHz = [-0.23, 0.57, -0.19];
const highlightK_10MHz = [0.61, -0.13, 0.72];
const highlightColors = ['#ff0000', '#3ef03e', '#0000ff'];

const panelLetters = ['A', 'B', 'C', 'D'];
const panelTitles = [
  '<i>σ</i><sub>m</sub> = 1 mS/m &amp; <i>f</i> = 1 kHz',
  '<i>σ</i><sub>m</sub> = 10 mS/m &amp; <i>f</i> = 10 MHz',
  '<i>σ</i><sub>m</sub> = 1 mS/m &amp; <i>f</i> = 1 kHz',
  '<i>σ</i><sub>m</sub> = 10 mS/m &amp; <i>f</i> = 10 MHz'];
const yTickVals = [-0.5, 0, 0.5, 1];
const yTickText = ['-0.5', '0', '0.5', '1'];
const cellTickVals = [0, 500, 1000];
const cellTickText = ['0', '500', '1000'];
const sigmaTickVals = [-2, -1.5, -1, -0.5, 0];
const sigmaTickText = ['-2', '-1.5', '-1', '-0.5', '0'];

// ---- figure ----
const FONT = 'DejaVu Sans';
const SANS = 'Liberation Sans, Arial, sans-serif';
const W = 925, H = 753;
const px = v => v / W, py = v => 1 - v / H;

const panels = [
  {x: cellNumber, y: reK_1kHz, hx: highlightCellNumber, hy: highlightK_1kHz, sym: 'circle'},
  {x: cellNumber, y: reK_10MHz, hx: highlightCellNumber, hy: highlightK_10MHz, sym: 'triangle-up'},
  {x: log10SigmaCyto, y: reK_1kHz, hx: highlightLogSigma, hy: highlightK_1kHz, sym: 'circle'},
  {x: log10SigmaCyto, y: reK_10MHz, hx: highlightLogSigma, hy: highlightK_10MHz, sym: 'triangle-up'}
];

const traces = [];
panels.forEach((p, i) => {
  const xa = i === 0 ? 'x' : 'x' + (i + 1);
  const ya = i === 0 ? 'y' : 'y' + (i + 1);
  const lg = i === 0 ? 'legend' : 'legend' + (i + 1);
  const tri = p.sym === 'triangle-up';
  traces.push({
    type: 'scatter', mode: 'markers', x: p.x, y: p.y, xaxis: xa, yaxis: ya,
    showlegend: false, cliponaxis: false, hoverinfo: 'skip',
    marker: {symbol: p.sym + '-open', size: tri ? 11 : 10, color: '#000', line: {width: 1, color: '#000'}}
  });
  highlightNames.forEach((nm, k) => {
    traces.push({
      type: 'scatter', mode: 'markers', x: [p.hx[k]], y: [p.hy[k]], xaxis: xa, yaxis: ya,
      name: nm, legend: lg, cliponaxis: false,
      marker: {symbol: p.sym, size: tri ? 22 : 20, color: highlightColors[k], line: {width: 0}}
    });
  });
});

const xDom = [[86, 414], [570, 898], [86, 414], [570, 898]];
const yDom = [[310, 51], [310, 50], [683, 424], [683, 424]];

function axisBase(extra) {
  return Object.assign({
    showgrid: false, zeroline: false, showline: true, linecolor: '#000', linewidth: 1.5,
    mirror: 'ticks', ticks: 'inside', ticklen: 5, tickwidth: 1, tickcolor: '#000',
    tickfont: {family: SANS, size: 19, color: '#000'}, automargin: false, fixedrange: true
  }, extra);
}

const layout = {
  width: W, height: H, margin: {l: 0, r: 0, t: 0, b: 0},
  paper_bgcolor: '#fff', plot_bgcolor: '#fff',
  font: {family: FONT, color: '#000'},
  annotations: [], showlegend: true
};

const xTitles = ['Cell number', 'Cell number',
  'log<sub>10</sub><i>σ</i><sub>cyto</sub> (S/m)', 'log<sub>10</sub><i>σ</i><sub>cyto</sub> (S/m)'];

for (let i = 0; i < 4; i++) {
  const s = i === 0 ? '' : String(i + 1);
  const isCell = i < 2;
  layout['xaxis' + s] = axisBase({
    domain: [px(xDom[i][0]), px(xDom[i][1])], anchor: 'y' + s,
    range: isCell ? [0, 1000] : [-2, 0],
    tickmode: 'array', tickvals: isCell ? cellTickVals : sigmaTickVals,
    ticktext: isCell ? cellTickText : sigmaTickText,
    title: {text: xTitles[i], font: {family: FONT, size: 24, color: '#000'}, standoff: isCell ? 11 : 17}
  });
  layout['yaxis' + s] = axisBase({
    domain: [py(yDom[i][0]), py(yDom[i][1])], anchor: 'x' + s,
    range: [-0.5, 1], tickmode: 'array', tickvals: yTickVals, ticktext: yTickText,
    title: {text: 'Re[<i>K</i><sub>CM</sub>]', font: {family: FONT, size: 26, color: '#000'}, standoff: 2}
  });
  const top = i < 2;
  const legY = [72, 291, 445, 665][i];
  layout['legend' + (i === 0 ? '' : i + 1)] = {
    x: px(xDom[i][0] - 3), y: py(legY), xanchor: 'left', yanchor: 'middle',
    orientation: 'h', bgcolor: 'rgba(0,0,0,0)', borderwidth: 0,
    font: {family: SANS, size: 21, color: '#000'}, itemsizing: 'trace',
    entrywidth: 65, entrywidthmode: 'pixels',
    itemclick: false, itemdoubleclick: false
  };
  const cx = [247, 734, 247, 734][i];
  const ty = top ? 24 : 398;
  layout.annotations.push({
    xref: 'paper', yref: 'paper', x: px(cx), y: py(ty), xanchor: 'center', yanchor: 'middle',
    text: panelTitles[i], showarrow: false, font: {family: FONT, size: 23, color: '#000'}
  });
  const lx = [22, 507, 24, 507][i];
  const ly = top ? 28 : 400;
  layout.annotations.push({
    xref: 'paper', yref: 'paper', x: px(lx), y: py(ly), xanchor: 'center', yanchor: 'middle',
    text: '<b>' + panelLetters[i] + '</b>', showarrow: false, font: {family: FONT, size: 26, color: '#000'}
  });
}

Plotly.newPlot('chart', traces, layout, {staticPlot: true, displayModeBar: false});
</script>
</body></html>
